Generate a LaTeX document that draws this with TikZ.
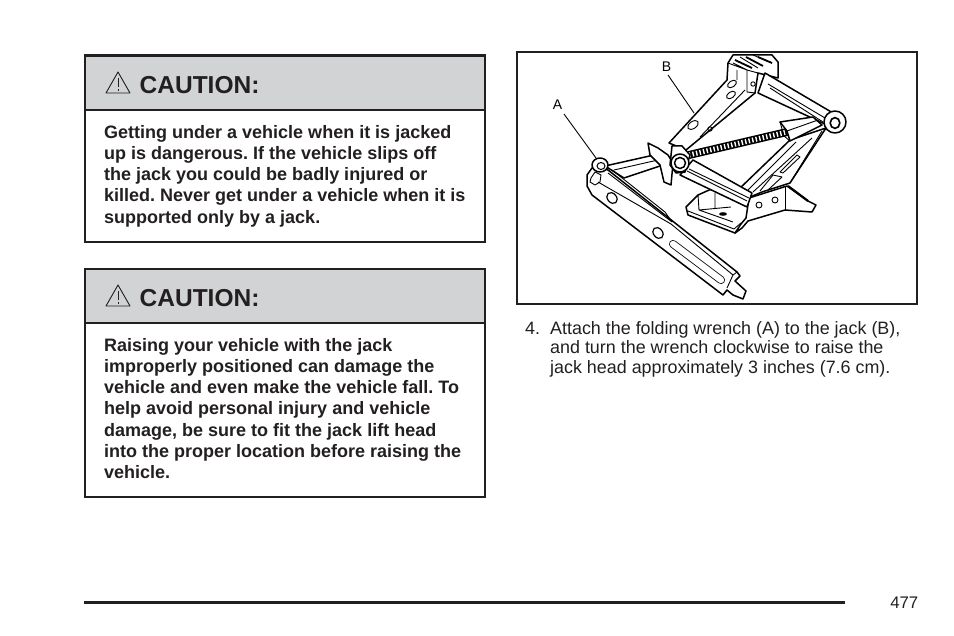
\documentclass[tikz,border=0pt]{standalone}
\usepackage{fontspec}
\setmainfont{Liberation Sans}
\definecolor{ink}{HTML}{231F20}
\definecolor{bandgray}{HTML}{D1D3D4}
\tikzset{
	box/.style={draw=ink,line width=2pt},
	band/.style={draw=ink,fill=bandgray,line width=2pt},
	bodytext/.style={anchor=north west,inner sep=0pt,align=left,text=ink,font=\fontsize{18}{21.2}\selectfont\bfseries},
	steptext/.style={anchor=north west,inner sep=0pt,align=left,text=ink,font=\fontsize{17.9}{19.6}\selectfont},
	headtext/.style={anchor=base west,inner sep=0pt,text=ink,font=\fontsize{24.5}{26}\selectfont\bfseries},
	part/.style={draw=black,fill=white,line width=1.5pt,line join=round},
	thin part/.style={draw=black,line width=.9pt,line join=round},
	tag/.style={inner sep=0pt,text=black,font=\fontsize{14}{15}\selectfont}
}
\frenchspacing
\begin{document}
\begin{tikzpicture}[x=1pt,y=-1pt,line join=miter]
	\useasboundingbox (0,0) rectangle (954,636);
	% caution boxes
	\draw[band] (85,56) rectangle (485,110);
	\draw[ink,line width=3pt] (84,56)--(486,56);
	\draw[box] (85,110) rectangle (485,242);
	\draw[band] (85,269) rectangle (485,323);
	\draw[box] (85,323) rectangle (485,497);
	\foreach \yo in {0,213}{
		\draw[ink,line width=.9pt,line join=round] (118,72+\yo)--(130,93+\yo)--(106,93+\yo)--cycle;
		\draw[ink,line width=1pt] (118,78+\yo)--(118,87+\yo) (118,89+\yo)--(118,91+\yo);
	}
	\node[headtext] (headA) at (139.5,94) {CAUTION:};
	\node[headtext] (headB) at (139.5,307) {CAUTION:};
	\node[bodytext] (warnA) at (104,125) {Getting under a vehicle when it is jacked\\
		up is dangerous. If the vehicle slips off\\
		the jack you could be badly injured or\\
		killed. Never get under a vehicle when it is\\
		supported only by a jack.};
	\node[bodytext] (warnB) at (104,338) {Raising your vehicle with the jack\\
		improperly positioned can damage the\\
		vehicle and even make the vehicle fall. To\\
		help avoid personal injury and vehicle\\
		damage, be sure to fit the jack lift head\\
		into the proper location before raising the\\
		vehicle.};
	% jack picture
	\draw[ink,line width=2pt] (517,52.5) rectangle (917,304);
	% base
	\draw[part] (686,207)--(698,195)--(716,187)--(752,193)--(748,220)--(742,227)--(735,233)--(688,215)--cycle;
	\draw[thin part] (688,211)--(734,229)--(741,223) (698,195)--(699,210)--(733,222)
		(715,193)--(715,208) (699,210)--(731,207);
	\draw[fill=black] (723,214) ellipse (3.5 and 1.5);
	% lower right arm
	\draw[part] (738,190)--(790,140)--(826,128)--(790,183)--(762,192)--(750,197)--cycle;
	\draw[thin part] (753,192)--(812,138) (748,190)--(796,142) (790,183)--(822,131);
	\draw[thin part] (780,172)--(797,155)--(800,157)--(783,173)--cycle;
	\draw[thin part] (760,191)--(773,175)--(782,177)--(768,190);
	% foot plate
	\draw[part] (749,198)--(787,186)--(808,201)--(816,205)--(812,212)--(785,210)--(748,221)--(742,228)--(735,233)--(741,224)--(746,218)--cycle;
	\draw[thin part] (785,187)--(785,210);
	\draw[line width=2.2pt] (788,186)--(808,201);
	\draw[thin part] (759,205) circle (3) (775,200) circle (3);
	% upper arm with the head
	\draw[part] (669,143)--(727,80)--(728,63)--(733,55)--(772,55)--(778,62)--(778,78)--(758,73)--(755,93)--(686,150)--cycle;
	\draw[thin part] (733,63)--(747,70) (740,57)--(758,68) (753,55)--(772,63) (728,63)--(747,70)--(747,92)--(755,93)
		(747,70)--(758,73) (737,70)--(737,80) (700,137)--(745,90);
	\draw[line width=1.8pt] (735,60)--(752,68) (746,57)--(763,66) (758,57)--(772,63);
	\draw[thin part,rotate around={35:(693,125)}] (693,125) ellipse (6 and 3.5);
	\draw[thin part,rotate around={35:(732,84)}] (732,84) ellipse (5 and 3);
	\draw[thin part,rotate around={35:(731,95)}] (731,95) ellipse (5 and 3);
	\draw[thin part] (710,129) circle (2.2) (753,84) circle (2.2);
	% upper right arm
	\draw[part] (765,73)--(833,113)--(827,125)--(758,93)--cycle;
	\draw[thin part] (770,88)--(823,122) (768,84)--(825,118);
	% screw and nut
	\draw[line width=8pt] (689,155)--(787,132);
	\draw[white,line width=5pt,dash pattern=on 1.4pt off 2.2pt] (689,155)--(787,132);
	\draw[part] (780,122)--(813,117)--(822,125)--(790,141)--(787,131)--cycle;
	\draw[thin part] (787,131)--(818,120);
	\draw[thin part] (780,122)--(784,136)--(790,141);
	\draw[part] (835,122) circle (11);
	\draw[line width=1.6pt,fill=white] (835,123) ellipse (4.8 and 5.4);
	% wrench tube and flange
	\draw[part] (605,166)--(663,153)--(663,165)--(624,178)--cycle;
	\draw[thin part] (614,170)--(658,160);
	\draw[part] (648,143)--(658,148)--(668,155)--(673,163)--(671,185)--(664,182)--(660,165)--(650,155)--cycle;
	% lower left arm with lug
	\draw[part] (693,160)--(752,193)--(747,207)--(680,175)--cycle;
	\draw[thin part] (687,171)--(747,201) (689,169)--(749,198);
	\draw[part] (672,146)--(682,146)--(690,155)--(685,172)--(676,173)--(670,165)--cycle;
	\draw[part] (680,163) circle (9);
	\draw[line width=1.5pt,fill=white] (680,163) circle (5.5);
	% wrench blade
	\draw[part] (587,175)--(592,168)--(600,167)--(608,170)--(737,272)--(740,276)--(735,281)--(746,291)--(743,299)--(733,295)--(727,290)--(723,295)--(592,195)--(587,186)--cycle;
	\draw[thin part] (598,182)--(671,224)--(733,275)--(727,288) (608,173)--(672,222)--(665,212)--(612,170) (733,275)--(737,272);
	\draw[thin part] (591,178)--(595,172)--(601,175)--(600,182)--(595,185)--(590,182)--cycle;
	\draw[line width=8pt,line cap=round] (673,244)--(721,280);
	\draw[white,line width=6.4pt,line cap=round] (673,244)--(721,280);
	\draw[line width=1.2pt,fill=white,rotate around={-50:(612,198)}] (612,198) ellipse (6 and 4.5);
	\draw[line width=1.2pt,fill=white,rotate around={-50:(658,233)}] (658,233) ellipse (6 and 4.5);
	\draw[part] (600,165) ellipse (8 and 7);
	\draw[line width=1pt,fill=white] (601,166) ellipse (4 and 3.5);
	% labels
	\coordinate (ringA) at (596,158);
	\coordinate (armB) at (694,113);
	\node[tag] (A) at (557.5,105) {A};
	\node[tag] (B) at (666.5,66.5) {B};
	\draw[line width=.9pt] (564,114)--(ringA);
	\draw[line width=.9pt] (668,75)--(armB);
	% step text
	\node[steptext] (stepnum) at (525,321) {\vphantom{(}4.};
	\node[steptext] (steptxt) at (550,321) {Attach the folding wrench (A) to the jack (B),\\
		and turn the wrench clockwise to raise the\\
		jack head approximately 3 inches (7.6 cm).};
	% foot of the page
	\draw[ink,line width=3.5pt] (84,602.5)--(845,602.5);
	\node[anchor=base east,inner sep=0pt,text=ink,font=\fontsize{16.8}{18}\selectfont] (pagenum) at (918.5,608) {477};
\end{tikzpicture}
\end{document}
